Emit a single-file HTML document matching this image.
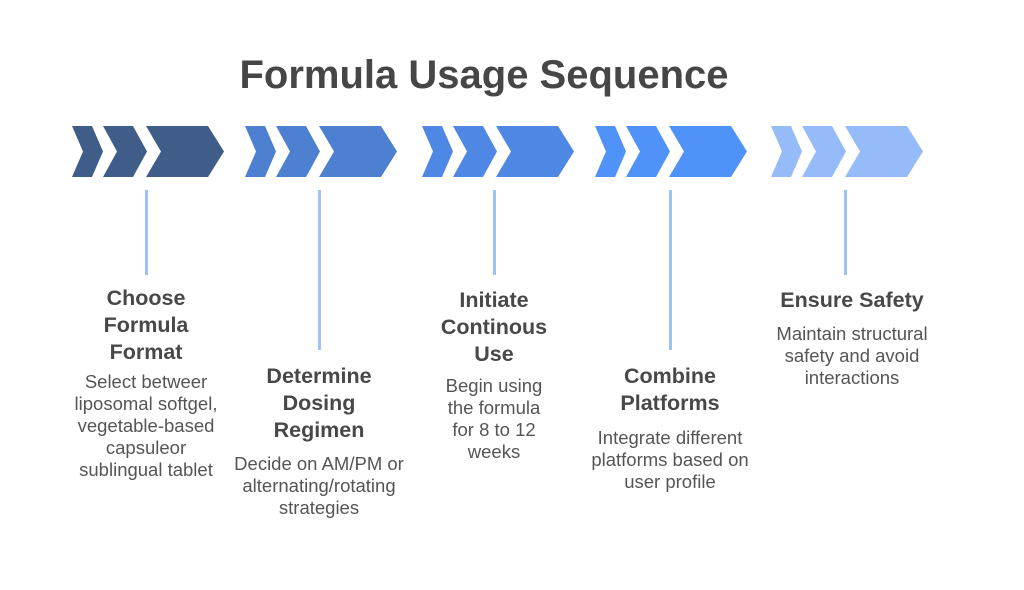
<!DOCTYPE html>
<html><head><style>
body{margin:0;width:1024px;height:590px;background:#fff;position:relative;overflow:hidden;font-family:"Liberation Sans",sans-serif}
.t{position:absolute;left:0;width:968px;text-align:center;top:53px;font-size:40px;font-weight:bold;color:#464646}
.h{position:absolute;width:220px;text-align:center;font-weight:bold;font-size:21.5px;line-height:27px;color:#484848}
.b{position:absolute;width:220px;text-align:center;font-size:18.5px;line-height:22px;color:#555}
.l{position:absolute;width:3px;background:#9ec2f5;top:190px}
</style></head><body>
<div class="t">Formula Usage Sequence</div>
<svg width="1024" height="200" style="position:absolute;left:0;top:0">
<defs>
<g id="g">
<polygon points="0,126 20,126 31,151.5 20,177 0,177 11,151.5"/>
<polygon points="31,126 61,126 75,151.5 61,177 31,177 45,151.5"/>
<polygon points="74,126 136,126 152,151.5 136,177 74,177 89,151.5"/>
</g>
</defs>
<use href="#g" x="72" fill="#3f5d88"/>
<use href="#g" x="245" fill="#4d80d0"/>
<use href="#g" x="422" fill="#4f87e4"/>
<use href="#g" x="595" fill="#4f92f8"/>
<use href="#g" x="771" fill="#95bbf8"/>
</svg>
<div class="l" style="left:145px;height:85px"></div>
<div class="l" style="left:318px;height:160px"></div>
<div class="l" style="left:493px;height:85px"></div>
<div class="l" style="left:669px;height:160px"></div>
<div class="l" style="left:844px;height:85px"></div>

<div class="h" style="left:36px;top:285px">Choose<br>Formula<br>Format</div>
<div class="b" style="left:36px;top:371px">Select betweer<br>liposomal softgel,<br>vegetable-based<br>capsuleor<br>sublingual tablet</div>

<div class="h" style="left:209px;top:363px">Determine<br>Dosing<br>Regimen</div>
<div class="b" style="left:209px;top:453px">Decide on AM/PM or<br>alternating/rotating<br>strategies</div>

<div class="h" style="left:384px;top:287px">Initiate<br>Continous<br>Use</div>
<div class="b" style="left:384px;top:375px">Begin using<br>the formula<br>for 8 to 12<br>weeks</div>

<div class="h" style="left:560px;top:363px">Combine<br>Platforms</div>
<div class="b" style="left:560px;top:427px">Integrate different<br>platforms based on<br>user profile</div>

<div class="h" style="left:742px;top:287px">Ensure Safety</div>
<div class="b" style="left:742px;top:323px">Maintain structural<br>safety and avoid<br>interactions</div>
</body></html>
